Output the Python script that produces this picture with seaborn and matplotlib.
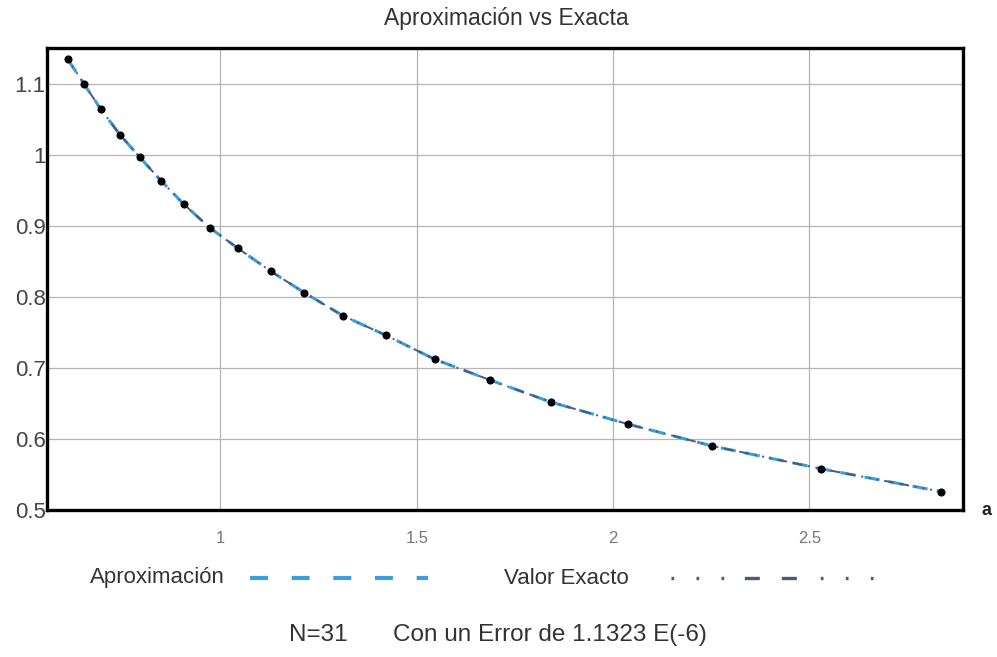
import matplotlib
matplotlib.use("Agg")
import matplotlib.pyplot as plt
import seaborn as sns
import pandas as pd
from matplotlib.lines import Line2D

# ---- data ----
a_vals = [0.611, 0.653, 0.695, 0.744, 0.795, 0.849, 0.907, 0.973, 1.045, 1.128,
          1.213, 1.313, 1.421, 1.546, 1.686, 1.841, 2.037, 2.253, 2.530, 2.835]
aprox_vals = [1.134, 1.099, 1.064, 1.028, 0.996, 0.963, 0.930, 0.897, 0.868, 0.836,
              0.806, 0.773, 0.746, 0.712, 0.683, 0.652, 0.621, 0.590, 0.558, 0.526]
exact_vals = [1.134, 1.099, 1.064, 1.028, 0.996, 0.963, 0.930, 0.897, 0.868, 0.836,
              0.806, 0.773, 0.746, 0.712, 0.683, 0.652, 0.621, 0.590, 0.558, 0.526]
x_ticks = [1, 1.5, 2, 2.5]
x_tick_labels = ["1", "1.5", "2", "2.5"]
y_ticks = [0.5, 0.6, 0.7, 0.8, 0.9, 1.0, 1.1]
y_tick_labels = ["0.5", "0.6", "0.7", "0.8", "0.9", "1", "1.1"]
title = "Aproximación vs Exacta"
series_names = ["Aproximación", "Valor Exacto"]
footer_n = "N=31"
footer_err = "Con un Error de 1.1323 E(-6)"

df = pd.DataFrame({"a": a_vals, "aprox": aprox_vals, "exact": exact_vals})

sns.set_theme(style="white")
plt.rcParams["font.family"] = ["Liberation Sans", "DejaVu Sans"]

BLUE = "#3a9ee0"
SLATE = "#4b5a78"
TXT = "#333333"

fig = plt.figure(figsize=(9.97, 6.57), dpi=100)
ax = fig.add_axes([0.0471, 0.2237, 0.9187, 0.7032])

sns.lineplot(data=df, x="a", y="aprox", ax=ax, color=BLUE, lw=2.2,
             linestyle=(0, (5, 3)), sort=False, zorder=3)
sns.lineplot(data=df, x="a", y="exact", ax=ax, color=SLATE, lw=1.4,
             linestyle=(0, (1, 3, 1, 3, 1, 3, 5, 3, 5, 3)), sort=False, zorder=4)
sns.scatterplot(data=df, x="a", y="exact", ax=ax, color="black", s=34,
                edgecolor="black", linewidth=0, zorder=5)

ax.set_xlim(0.558, 2.891)
ax.set_ylim(0.5, 1.15)
ax.set_xticks(x_ticks)
ax.set_xticklabels(x_tick_labels)
ax.set_yticks(y_ticks)
ax.set_yticklabels(y_tick_labels)
ax.set_xlabel("")
ax.set_ylabel("")
ax.grid(True, color="#b4b4b4", lw=0.9)
ax.set_axisbelow(True)
for s in ax.spines.values():
    s.set_visible(True)
    s.set_color("black")
    s.set_linewidth(2.4)
ax.tick_params(axis="y", length=0, pad=1, labelsize=16, labelcolor="#444444")
ax.tick_params(axis="x", length=0, pad=15, labelsize=12, labelcolor="#777777")

fig.text(0.508, 0.972, title, ha="center", va="center", fontsize=16.5, color=TXT)
fig.text(0.989, 0.2237, "a", ha="center", va="center", fontsize=13,
         fontweight="bold", color="#222222")

# legend row
ly = 1 - 578 / 657
fig.text(90 / 997, ly, series_names[0], ha="left", va="center", fontsize=16, color=TXT)
fig.add_artist(Line2D([250 / 997, 428 / 997], [ly, ly], transform=fig.transFigure,
                      color=BLUE, lw=3.0, linestyle=(0, (4.3, 5.7)),
                      solid_capstyle="butt", dash_capstyle="butt"))
fig.text(504 / 997, ly, series_names[1], ha="left", va="center", fontsize=16, color=TXT)
fig.add_artist(Line2D([671 / 997, 876 / 997], [ly, ly], transform=fig.transFigure,
                      color=SLATE, lw=2.4,
                      linestyle=(0, (0.8, 6.7, 0.8, 6.7, 0.8, 6.2, 4.5, 6.6, 4.5, 7.2,
                                     0.8, 6.7, 0.8, 6.7, 0.8, 30)),
                      dash_capstyle="butt"))

fyy = 1 - 635 / 657
fig.text(289 / 997, fyy, footer_n, ha="left", va="center", fontsize=17.5, color=TXT)
fig.text(393 / 997, fyy, footer_err, ha="left", va="center", fontsize=17.5, color=TXT)

fig.savefig("out.png", dpi=100)
